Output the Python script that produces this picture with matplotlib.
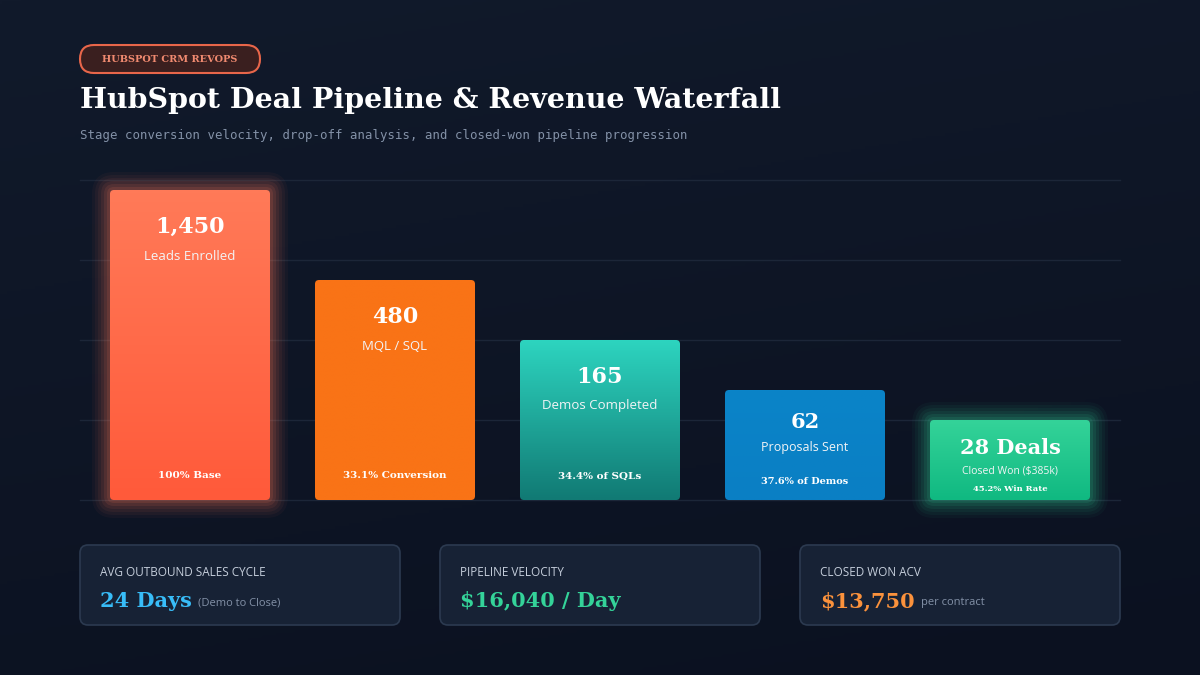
import matplotlib
matplotlib.use("Agg")
import matplotlib.pyplot as plt
import numpy as np
from matplotlib.patches import FancyBboxPatch
from matplotlib.colors import LinearSegmentedColormap

stages = ["Leads Enrolled", "MQL / SQL", "Demos Completed", "Proposals Sent", "Closed Won ($385k)"]
values = ["1,450", "480", "165", "62", "28 Deals"]
notes = ["100% Base", "33.1% Conversion", "34.4% of SQLs", "37.6% of Demos", "45.2% Win Rate"]
bar_heights = [310, 220, 160, 110, 80]  # visual scale
top_colors = ["#ff7a58", "#f97316", "#2dd4bf", "#0a84c8", "#34d399"]
bot_colors = ["#ff5a3a", "#f97316", "#117a74", "#0a7fc4", "#10b981"]
kpi_titles = ["AVG OUTBOUND SALES CYCLE", "PIPELINE VELOCITY", "CLOSED WON ACV"]
kpi_values = ["24 Days", "$16,040 / Day", "$13,750"]
kpi_notes = ["(Demo to Close)", "", "per contract"]
kpi_colors = ["#38bdf8", "#34d399", "#fb923c"]

W, H = 1200, 675
fig = plt.figure(figsize=(12, 6.75), dpi=100)
ax = fig.add_axes([0, 0, 1, 1])
ax.set_xlim(0, W); ax.set_ylim(H, 0); ax.axis("off")

bg = LinearSegmentedColormap.from_list("bg", ["#111a2b", "#0b1120"])
grad = np.linspace(0, 1, 256).reshape(-1, 1) + np.linspace(0, 0.3, 256).reshape(1, -1)
ax.imshow(grad, extent=[0, W, H, 0], cmap=bg, aspect="auto", zorder=0)

ax.add_patch(FancyBboxPatch((80, 45), 180, 28, boxstyle="round,pad=0,rounding_size=14",
                            fc="#3a1f1f", ec="#e8664a", lw=1.5, zorder=2))
ax.text(170, 59.5, "HUBSPOT CRM REVOPS", color="#f08a70", fontsize=7, fontweight="bold",
        family="DejaVu Serif", ha="center", va="center", zorder=3)
ax.text(80, 101, "HubSpot Deal Pipeline & Revenue Waterfall", color="white", fontsize=20.5,
        fontweight="heavy", family="DejaVu Serif", ha="left", va="center", zorder=3)
ax.text(80, 136, "Stage conversion velocity, drop-off analysis, and closed-won pipeline progression",
        color="#8391a7", fontsize=8.9, family="DejaVu Sans Mono", ha="left", va="center", zorder=3)

for gy in [180, 260, 340, 420, 500]:
    ax.plot([80, 1120], [gy, gy], color="#1c2638", lw=1, zorder=1)

base = 500
xs = [190, 395, 600, 805, 1010]
bw = 160
for i, (x, h) in enumerate(zip(xs, bar_heights)):
    top = base - h
    x0 = x - bw / 2
    if i in (0, 4):
        for k, a in enumerate([0.04, 0.05, 0.06, 0.08, 0.1, 0.12]):
            pad = 18 - k * 3
            ax.add_patch(FancyBboxPatch((x0 - pad, top - pad), bw + 2 * pad, h + 2 * pad,
                                        boxstyle=f"round,pad=0,rounding_size={4+pad}",
                                        fc=top_colors[i], ec="none", alpha=a, zorder=2))
    patch = FancyBboxPatch((x0, top), bw, h, boxstyle="round,pad=0,rounding_size=4",
                           fc="none", ec="none", zorder=3)
    ax.add_patch(patch)
    cm = LinearSegmentedColormap.from_list(f"c{i}", [top_colors[i], bot_colors[i]])
    im = ax.imshow(np.linspace(0, 1, 100).reshape(-1, 1), extent=[x0, x0 + bw, base, top],
                   cmap=cm, aspect="auto", zorder=3)
    im.set_clip_path(patch)
    if i < 3:
        ax.text(x, top + 37, values[i], color="white", fontsize=16, fontweight="bold",
                family="DejaVu Serif", ha="center", va="center", zorder=4)
        ax.text(x, top + 66, stages[i], color="#f3f4f6", fontsize=9.5, family="Open Sans",
                ha="center", va="center", zorder=4)
        ax.text(x, base - 24, notes[i], color="white", fontsize=7.5,
                fontweight="bold", family="DejaVu Serif", ha="center", va="center", zorder=4)
    elif i == 3:
        ax.text(x, top + 32, values[i], color="white", fontsize=15, fontweight="bold",
                family="DejaVu Serif", ha="center", va="center", zorder=4)
        ax.text(x, top + 58, stages[i], color="#f3f4f6", fontsize=9, family="Open Sans",
                ha="center", va="center", zorder=4)
        ax.text(x, base - 19, notes[i], color="white", fontsize=7,
                fontweight="bold", family="DejaVu Serif", ha="center", va="center", zorder=4)
    else:
        ax.text(x, top + 28, values[i], color="white", fontsize=15, fontweight="bold",
                family="DejaVu Serif", ha="center", va="center", zorder=4)
        ax.text(x, top + 51, stages[i], color="#f3f4f6", fontsize=7.5, family="Open Sans",
                ha="center", va="center", zorder=4)
        ax.text(x, top + 69, notes[i], color="white", fontsize=6, fontweight="bold",
                family="DejaVu Serif", ha="center", va="center", zorder=4)

for j, cx in enumerate([80, 440, 800]):
    ax.add_patch(FancyBboxPatch((cx, 545), 320, 80, boxstyle="round,pad=0,rounding_size=8",
                                fc="#172235", ec="#2c3a50", lw=1.2, zorder=2))
    ax.text(cx + 20, 573, kpi_titles[j], color="#c5cedb", fontsize=8.5, family="Open Sans",
            ha="left", va="center", zorder=3)
    t = ax.text(cx + 20, 601, kpi_values[j], color=kpi_colors[j], fontsize=15, fontweight="bold",
                family="DejaVu Serif", ha="left", va="center", zorder=3)
    if kpi_notes[j]:
        fig.canvas.draw()
        bb = t.get_window_extent()
        x_end = ax.transData.inverted().transform((bb.x1, bb.y0))[0]
        ax.text(x_end + 6, 603, kpi_notes[j], color="#8391a7", fontsize=8, family="Open Sans",
                ha="left", va="center", zorder=3)

fig.savefig("out.png", dpi=100, facecolor="#0d1424")
